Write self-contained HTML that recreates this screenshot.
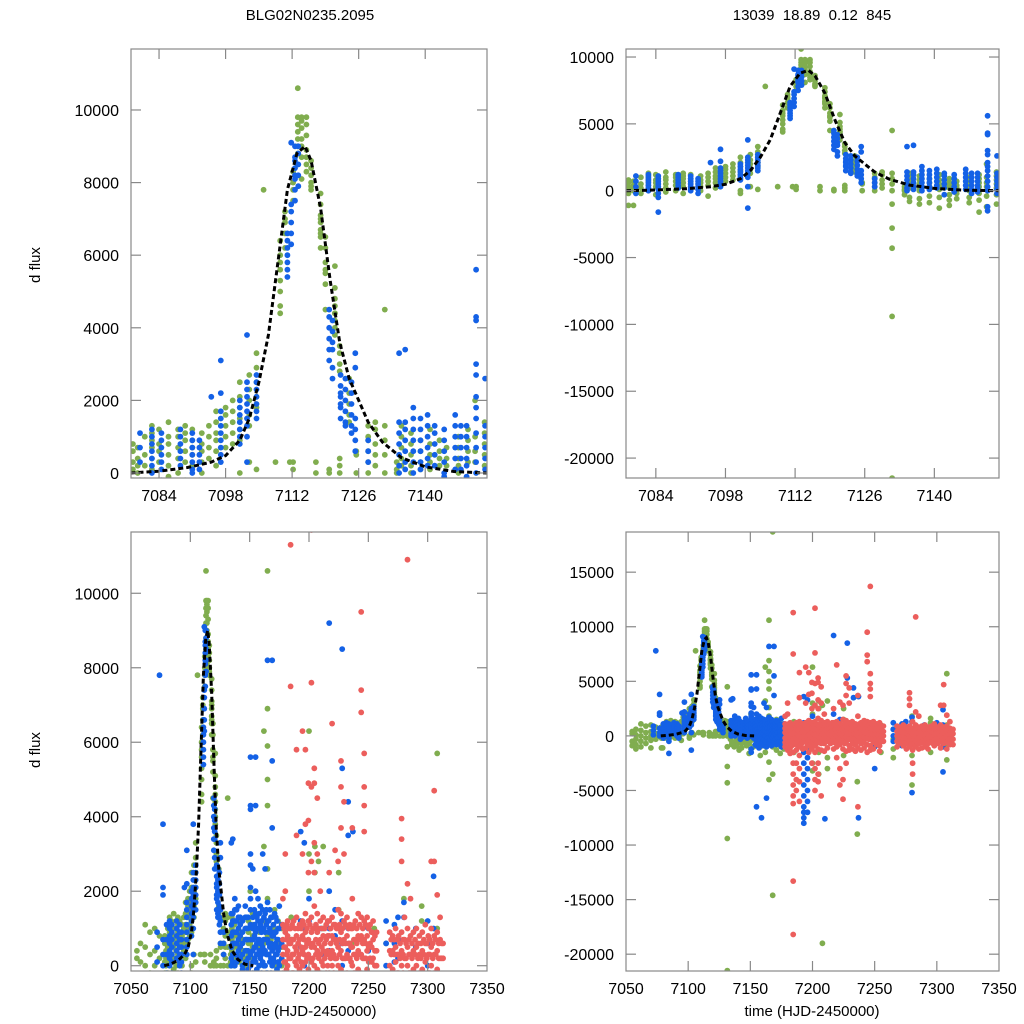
<!DOCTYPE html>
<html><head><meta charset="utf-8"><style>
html,body{margin:0;padding:0;background:#fff;width:1024px;height:1024px;overflow:hidden;}
svg{display:block;font-family:"Liberation Sans",Arial,sans-serif;}
</style></head><body>
<svg id="chart" width="1024" height="1024" viewBox="0 0 1024 1024" xmlns="http://www.w3.org/2000/svg">
<rect width="1024" height="1024" fill="#fff"/>
<text x="310" y="20" font-size="15" text-anchor="middle">BLG02N0235.2095</text>
<text x="812" y="20" font-size="15" text-anchor="middle" xml:space="preserve">13039  18.89  0.12  845</text>
<text x="40" y="265" font-size="15" text-anchor="middle" transform="rotate(-90 40 265)">d flux</text>
<text x="40" y="750" font-size="15" text-anchor="middle" transform="rotate(-90 40 750)">d flux</text>
<text x="309" y="1016" font-size="15" text-anchor="middle">time (HJD-2450000)</text>
<text x="812" y="1016" font-size="15" text-anchor="middle">time (HJD-2450000)</text>
</svg>
<script>
// ---- data: [time, [flux values...]] per observation night ----
const greenObs = [
[7055,[400,-500,-900,200]],[7058,[600,100,-300,-800,-1200]],[7062,[1100,500,0,-500,-1000]],
[7066,[900,300,-200,-700]],[7070,[1000,400,0,-400,-1100]],[7074,[800,200,-300]],
[7078.5,[800,600,300,100,-200,-1100]],[7079.5,[700,400,200,0,-1100]],[7081,[200,500,1000,-200]],
[7082.5,[1300,1100,900,700,400,100]],[7084,[1200,800,600,300,-300]],[7086,[1000,1400,800,500,200,-100]],
[7088,[1200,1000,700,400,0]],[7089.5,[1300,1100,900,600,300,-200]],[7091,[1200,900,700,500,200]],
[7093,[1100,800,600,300,0]],[7094.5,[1300,1000,700,400,-400]],[7096,[1700,1400,1100,900,600,200]],
[7098,[1800,1600,1300,1000,700]],[7099.5,[2000,1700,1400,1100,800]],
[7101,[2500,2100,1800,1500,1200,900,0,-200]],[7103,[2700,2300,2000,1600,1300,300]],
[7104.5,[3300,2900,2500,2100,1800,100]],[7106,[7800]],[7108.5,[300]],
[7109.5,[4400,4600,5000,5300,5600,6000,6400,5800]],[7110.5,[6600,6900,7200,7000,6200]],[7111.5,[300]],
[7112.2,[7500,7800,8000,8300,300,100]],[7113.2,[10600,9800,9600,9400,9200,9000,8800,8500]],
[7114,[9800,9700,9500,9200,9000,8700,8100]],[7115,[9800,9600,9300,8900,8700,8500,8300]],
[7116,[8600,8400,8200,8000,7800,7900]],[7117,[300,0]],
[7118,[7700,7400,7000,6600,6200,6900,7100,6700,6500]],[7119,[6500,6200,5800,5500,5200,5600,4500]],
[7119.8,[0,100]],[7121,[5700,5100,4800,4600,4400,4200,4000,3800,4400]],
[7122,[3500,3300,3000,2800,400,200,0]],[7124,[2600,2200,1900,1600,1400]],[7125.5,[500,600,0]],
[7128,[1300,1000,900,600,300,0]],[7129.5,[1400,1200,800,500,200]],
[7131.5,[4500,1300,900,500,0,-1000,-2800,-4300,-9400,-21500]],[7134,[300,100,0,-300]],
[7135,[1300,1000,700,400,200,-500,-800]],[7137,[1100,800,500,200,0,-600,-1000]],
[7139,[900,600,300,100,-400,-900]],[7141,[1200,800,500,300,100,-500,-1300]],
[7143,[900,600,400,200,-300,-700,-1100]],[7144.5,[700,400,200,-200,-600]],
[7147,[1000,700,400,200,0,-500,-900]],[7149,[1200,900,600,300,-200,-700,-1600]],
[7150.5,[2000,1000,600,300,-400,-1200]],[7152.5,[1400,1100,800,500,200,-300,-1000]],
[7158,[1400,900,500,0,-600,-1000,-1800]],[7162,[6300,3200,1200,600,0,-800,-1500]],
[7165,[10600,6900,5900,4300,5000,2600,1800,800,-2400,-4000]],[7168,[18700,1300,700,200,-500,-1000,-14600,-3500]],
[7171,[1500,1000,500,0,-600,-1300]],[7174,[1200,600,100,-400,-900,-1600]],[7177,[1000,500,0,-500,-1200]],
[7185,[1300,700,-700,-1500]],[7200,[6300,3000,2000,-2500,-3200]],[7205,[3200,2500,-1500,-3500]],
[7208,[-19000,2800]],[7212,[3200,1000,-2000,-3000]],[7225,[2500,1500,-1800]],[7236,[-9000,-4200,600]],
[7255,[1000,-500,-1500]],[7265,[600,-300,-1200,-2000]],[7280,[1800,-700,-1800,-4500]],
[7295,[1600,1200,-500,-1500]],[7308,[5700,1000,-800,-2200]]
];
const blueObs = [
[7072,[900,500,100]],[7074,[7800]],[7077,[3800,2100,1900,700,300,0]],[7080,[1100,700,300,-200]],
[7082.5,[1200,1000,800,600,400,200,0]],[7084.5,[1100,900,700,500,300,100,-200,-500,-1600]],
[7088.5,[1200,1000,800,600,400,200]],[7091,[1100,900,700,500,300,100,0]],
[7092.5,[900,700,500,300,100,-200]],[7095,[2100]],
[7097,[1700,1500,1300,1100,900,700,500,300,2200,3100]],[7101,[2000,1800,1600,1400,1200,1000,800]],
[7102.5,[2500,2300,2100,1900,1700,1500,1300,1000,3800,300,-1300]],[7104.5,[2700,2500,2300,2100,1900,1700,1500]],
[7111,[5400,5600,5800,6000,6200,6400,6600]],[7111.8,[6300,6600,6900,7200,7400,9100]],
[7112.6,[7500,7800,8100,8400,8700,9000,8200,8600]],[7113.3,[7900,8200,8500,8800,9000]],
[7119.8,[3100,3400,3700,4000,4300,4500]],[7120.5,[3400,3600,3900,4200,2900,2600]],
[7122.2,[2700,2400,2100,1800,1500,2200,1900]],[7123.2,[2600,2300,2000,1700,1400,1300]],
[7124.5,[2500,2200,1900,1600,1300,1100]],[7125.3,[3300,2900,1500,1200,900,600]],[7128,[900,600,300]],
[7134.5,[1400,1100,800,500,200,0,3300]],[7135.8,[1400,1200,900,600,300,100,3400]],
[7137.5,[1800,1500,1200,900,600,300,0]],[7139,[1500,1200,900,600,300,100]],
[7140.5,[1600,1300,1000,700,400,200]],[7142,[1300,1100,800,500,200,-300]],[7144,[1200,900,600,300,0,-100]],
[7146.3,[1300,1000,700,400,100,1600]],[7147.5,[1300,1000,700,400,100,-200]],
[7148.7,[1300,1000,700,400,200,-100]],
[7150.7,[5600,4300,4200,3000,2700,2100,1800,1500,1100,700,300,0,-1500,-1200]],
[7152.6,[1300,1000,700,400,100,-200,2600]],
[7154,[1500,1100,800,500,200,-300,-800]],
[7155,[5600,4300,2000,1400,900,500,100,-400,-900,-6500]],[7156,[1300,1000,600,300,-100,-600]],
[7157,[1800,1200,700,300,-200,-700,-1100]],[7158,[1400,1000,700,400,0,-400]],
[7159,[1600,1100,600,200,-300,-800,-7500]],[7160,[1200,900,600,300,-200,-600]],
[7161,[3000,1500,1000,500,100,-400,-900]],[7162,[1300,1000,700,400,0,-500]],
[7163,[2600,1400,900,400,0,-500,-1000,-5700]],[7164,[1500,1100,700,300,-200]],
[7165,[8200,1700,1200,700,300,-200,-700]],[7166,[1200,900,600,300,-300]],
[7167,[1500,1000,500,100,-400,-900]],[7168,[1300,900,600,200,-200]],
[7169,[8200,5500,3700,1300,800,400,0,-500]],[7170,[1100,800,500,200,-300]],
[7171,[1400,900,500,100,-300,-800]],[7172,[1300,900,600,300,-200]],[7173,[1200,700,300,-100,-600]],
[7174,[1000,700,400,100]],[7175,[1600,1000,500,0,-500,-1000]],
[7177,[1100,600,200,-300]],
[7193,[3600,1200,500,-500,-1500,-2500,-3500,-4500,-5500,-6500,-7000,-7500,-8000]],
[7196,[3300,1000,0,-1000,-2000,-3000,-4000,-5000,-6000,-7000]],[7200,[1800,1200,600,-800]],
[7210,[-7600,1000,300]],[7217,[9200,2000,1000,400,-500]],[7222,[1500,800,200]],
[7228,[8500,5300,1200,600,0]],[7233,[4400,3500,1000,400,-300]],[7237,[3600,-7500]],
[7250,[1000,400,-3000,-1000]],[7265,[1200,600,0,-500]],[7272,[1100,600,100,-400,-900]],
[7275,[1300,700,200,-300]],[7280,[1700,1300,-5200,-700]],[7290,[1000,500]],[7300,[1200,600,0]],
[7305,[2400,1000,-1000,-3300]]
];
const redObs = [
[7178,[1800,1100,700,300,-200,-600,-1000]],[7179,[1000,500,100,-400,-900]],
[7180,[3000,2000,900,500,100,-400,-900,-1300]],[7181,[1100,700,300,-100,-700]],
[7182,[1200,800,400,0,-500,-1100,-1600]],[7183.3,[1000,600,200,-300,-900]],
[7184.5,[11300,7500,1000,600,200,-300,-800,-1500,-2500,-3500,-4500,-5500,-6200,-13300,-18200]],
[7185.8,[1100,700,300,-200,-700]],
[7187,[1200,700,300,-200,-700,-1300,-2500,-4000,-5000]],[7188.3,[1000,500,100,-400,-1000]],
[7189.5,[5800,3500,1300,800,400,0,-500,-1000,-1800,-3000,-4200,-6000]],[7190.8,[1000,600,200,-300,-800]],
[7192,[1100,700,300,-100,-600,-1200]],[7193.3,[1000,500,100,-400]],[7194.5,[6300,3000,1200,800,400,0,-500,-1100]],
[7195.8,[1100,700,300,-200,-700]],
[7197,[5800,3800,1400,900,500,100,-400,-900,-1500]],[7198.3,[1000,600,200,-300,-800]],
[7199.5,[4900,3900,2500,1200,700,300,-100,-600,-1200,-2500]],[7200.8,[1100,600,200,-300]],
[7202,[11700,7600,4800,2800,1300,900,500,100,-400,-900,-1500,-3000,-4000,-5000]],[7203.3,[1000,600,200,-300,-700]],
[7204.5,[5300,4900,3300,2500,1600,1000,500,0,-500,-1200,-2500,-3500,-4200]],[7205.8,[1100,700,300,-200]],
[7207,[4500,3000,1400,900,400,-100,-700,-1300,-5500]],[7208.3,[1000,600,200,-400]],
[7209.5,[2000,1200,700,300,-200,-700,-1400]],[7210.8,[1000,500,100,-500]],
[7212,[1300,800,400,0,-500,-1100]],[7213.3,[1000,600,200,-300]],[7214.5,[1100,700,300,-200,-700]],
[7215.8,[1200,800,400,0,-500]],
[7217,[2500,1200,800,300,-200,-600,-1200]],[7218.3,[1000,600,200,-300]],
[7219.5,[6500,1300,800,400,0,-500,-1000,-2000]],[7220.8,[1100,700,300,-200]],
[7222,[3100,1100,700,200,-300,-800,-3000,-4500]],[7223.3,[1000,600,200,-400]],
[7224.5,[2800,1500,1000,500,0,-500,-1200,-4000,-5800]],[7225.8,[1100,700,300,-200,-700]],
[7227,[5500,4800,3700,1400,900,400,-100,-600,-1400,-2500]],[7228.3,[1000,600,200,-300]],
[7229.5,[4400,3000,1200,700,200,-300,-900,-1300]],[7230.8,[1100,600,200,-300]],
[7232,[1300,800,300,-200,-700,-1200]],[7233.3,[1000,600,200,-300]],[7234.5,[1100,600,200,-300,-800,-1400]],
[7235.5,[1000,500,100,-400]],
[7236.5,[3700,1800,1000,500,0,-500,-1100,-6500]],[7237.8,[1100,700,300,-200]],
[7239,[1200,700,300,-200,-700,-1300]],[7240.3,[1000,600,200,-300]],
[7241.5,[1400,800,400,-100,-600,-1100]],[7242.8,[1100,700,300,-200]],
[7244,[9500,7400,6800,1300,800,300,-200,-800,-1500]],[7245.3,[1000,600,200,-300]],
[7246.5,[13700,5700,4800,4300,3600,1200,700,200,-300,-900,-1300]],[7247.8,[1100,600,200,-300]],
[7249,[1300,800,400,-100,-600,-1200]],[7250.3,[1000,500,100,-400]],
[7251.5,[1100,600,200,-300,-800]],[7252.8,[900,500,100,-400]],[7254,[1200,700,200,-300,-900,-1400]],
[7255.5,[800,400,0,-500]],[7257,[900,400,0,-500]],
[7268,[900,400,0,-500,-1000]],[7269.3,[700,300,-200,-700]],[7270.5,[800,400,-100,-600]],[7271.8,[700,300,-200]],
[7273,[1000,500,100,-400,-900]],[7274.3,[700,300,-200,-700]],
[7275.5,[800,300,-200,-700,-1200]],[7276.8,[600,200,-300]],[7278,[3950,3400,2800,900,400,0,-500,-1000]],
[7279.3,[700,300,-200,-600]],
[7280.5,[1300,700,200,-300,-800,-1300,-2500,-3500]],[7281.8,[600,200,-300,-700]],[7283,[10900,2200,1000,500,0,-500,-1000]],
[7284.3,[700,300,-200,-600]],
[7285.5,[1800,800,300,-200,-700,-1200]],[7286.8,[600,200,-300]],[7288,[900,400,-100,-600,-1100]],
[7289.3,[700,300,-200]],[7290.5,[1000,500,0,-500,-1000]],[7291.8,[600,200,-300,-800]],
[7293,[800,300,-200,-700,-1200]],[7294.3,[600,200,-300]],[7295.5,[900,400,-100,-600]],[7296.8,[700,300,-200,-700]],
[7298,[1100,600,100,-400,-900]],[7299.3,[600,200,-300]],
[7300.5,[800,300,-200,-700]],[7301.8,[700,300,-200,-600]],[7303,[2800,1000,500,0,-500,-1100]],[7304.3,[600,200,-300]],
[7305.5,[4700,2800,800,300,-200,-700]],[7306.8,[700,300,-200,-600]],
[7308,[1900,900,400,-100,-600,-1200]],[7309.3,[600,200,-300]],[7310.5,[1300,700,200,-300,-800]],
[7311.8,[600,200,-300,-700]],[7313,[600,200,-300,-800]]
];
const modelT = [7078,7084,7090,7095,7098,7101,7103,7105,7107,7109,7111,7113,7114.7,7116,7118,7120,7122,7124,7126,7128,7131,7135,7140,7146,7153];
const modelF = [0,50,150,300,480,900,1500,2500,3800,5800,7800,8800,9000,8600,7300,5300,3600,2600,2000,1400,850,420,170,40,0];
const topXTicks = [7084,7098,7112,7126,7140];
const botXTicks = [7050,7100,7150,7200,7250,7300,7350];
const tlYTicks = [0,2000,4000,6000,8000,10000];
const trYTicks = [-20000,-15000,-10000,-5000,0,5000,10000];
const blYTicks = [0,2000,4000,6000,8000,10000];
const brYTicks = [-20000,-15000,-10000,-5000,0,5000,10000,15000];

const NS = "http://www.w3.org/2000/svg";
const svg = document.getElementById('chart');
function mk(tag, attrs, parent){ const e=document.createElementNS(NS,tag); for(const k in attrs) e.setAttribute(k,attrs[k]); (parent||svg).appendChild(e); return e; }

const panels = [
 {id:'top-left', x0:131,x1:487,y0:49,y1:478,t0:7078.1,t1:7153,f0:-138,f1:11680,xt:topXTicks,yt:tlYTicks},
 {id:'top-right',x0:626,x1:999,y0:49,y1:478,t0:7078,t1:7153,f0:-21490,f1:10600,xt:topXTicks,yt:trYTicks},
 {id:'bottom-left',x0:131,x1:487,y0:532,y1:971,t0:7050,t1:7350,f0:-142,f1:11645,xt:botXTicks,yt:blYTicks},
 {id:'bottom-right',x0:626,x1:999,y0:532,y1:971,t0:7050,t1:7350,f0:-21540,f1:18680,xt:botXTicks,yt:brYTicks}
];
panels.forEach((p,i)=>{
  const X = t => p.x0 + (t-p.t0)/(p.t1-p.t0)*(p.x1-p.x0);
  const Y = f => p.y1 - (f-p.f0)/(p.f1-p.f0)*(p.y1-p.y0);
  const g = mk('g',{});
  
  
  const cp = mk('clipPath',{id:'clip'+i}, g);
  mk('rect',{x:p.x0,y:p.y0,width:p.x1-p.x0,height:p.y1-p.y0},cp);
  const series = [['green',greenObs,'#80ad4f'],['blue',blueObs,'#1461e6'],['red',redObs,'#ec5e5c']];
  series.forEach(([nm,obs,col])=>{
    const sg = mk('g',{'clip-path':'url(#clip'+i+')',fill:col}, g);
    
    
    obs.forEach(([t,fs])=>{
      fs.forEach(f=>{
        const cx = X(t), cy = Y(f);
        if(cx < p.x0-3 || cx > p.x1+3 || cy < p.y0-3 || cy > p.y1+3) return;
        const c = mk('circle',{cx:cx.toFixed(1),cy:cy.toFixed(1),r:2.9}, sg);
        
        
      });
    });
  });
  let d='';
  modelT.forEach((t,k)=>{ d += (k?'L':'M')+X(t).toFixed(1)+','+Y(modelF[k]).toFixed(1); });
  const ml = mk('path',{d:d,fill:'none',stroke:'#000','stroke-width':3,'stroke-dasharray':'5,3','clip-path':'url(#clip'+i+')'}, g);
  
  
  const fr = mk('rect',{x:p.x0,y:p.y0,width:p.x1-p.x0,height:p.y1-p.y0,fill:'none',stroke:'#888','stroke-width':1.2}, g);
  
  
  p.xt.forEach(t=>{
    const x=X(t);
    if(x>p.x0+1 && x<p.x1-1){
      mk('line',{x1:x,y1:p.y1,x2:x,y2:p.y1-10,stroke:'#888','stroke-width':1.2},g);
      mk('line',{x1:x,y1:p.y0,x2:x,y2:p.y0+10,stroke:'#888','stroke-width':1.2},g);
    }
    const tx = mk('text',{x:x,y:p.y1+23,'font-size':16,'text-anchor':'middle'},g);
    tx.textContent = t;
    
    
  });
  p.yt.forEach(f=>{
    const y=Y(f);
    mk('line',{x1:p.x0,y1:y,x2:p.x0+10,y2:y,stroke:'#888','stroke-width':1.2},g);
    mk('line',{x1:p.x1,y1:y,x2:p.x1-10,y2:y,stroke:'#888','stroke-width':1.2},g);
    const ty = mk('text',{x:p.x0-12,y:y+6,'font-size':16,'text-anchor':'end'},g);
    ty.textContent = f;
    
    
  });
});
</script>
</body></html>
